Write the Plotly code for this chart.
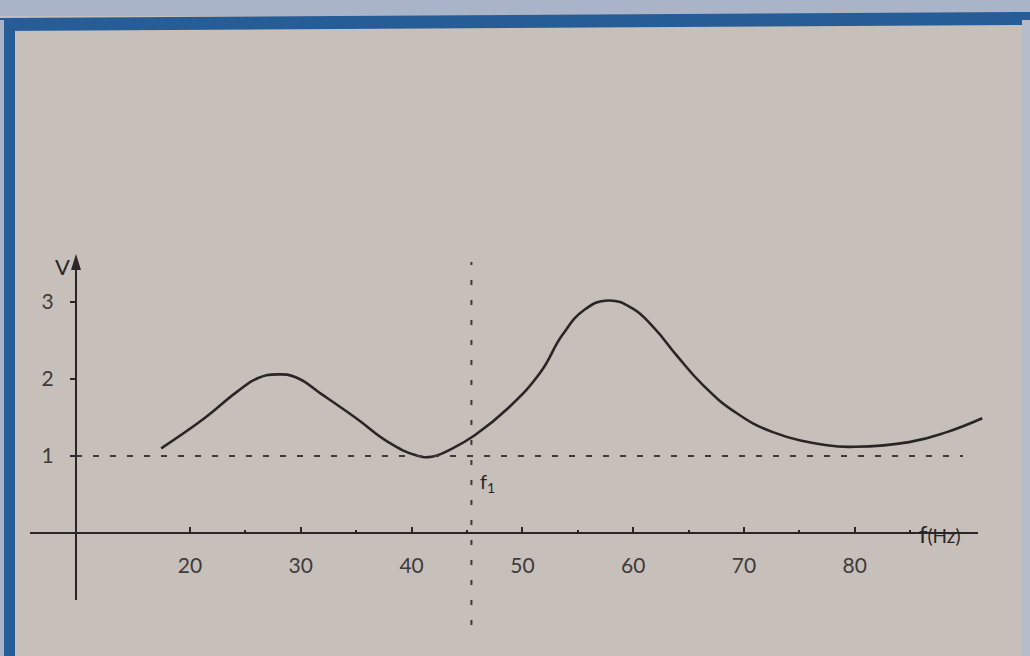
import plotly.graph_objects as go

# Response curve: output voltage V against frequency f (Hz)
freq = [17.4, 21.3, 24.2, 26.1, 27.9, 29.6, 32.0, 35.0, 37.9, 40.4, 41.8, 43.7,
        45.7, 48.7, 51.6, 53.6, 55.6, 57.7, 59.9, 61.9, 63.9, 66.3, 69.2, 72.6,
        77.5, 80.0, 84.9, 88.3, 91.5]
volts = [1.10, 1.49, 1.83, 2.01, 2.06, 2.02, 1.79, 1.49, 1.18, 1.01, 0.99, 1.10,
         1.27, 1.62, 2.08, 2.57, 2.90, 3.02, 2.92, 2.66, 2.31, 1.92, 1.57, 1.31,
         1.14, 1.12, 1.18, 1.31, 1.49]

x_tick_vals = [20, 30, 40, 50, 60, 70, 80]
x_tick_text = ["20", "30", "40", "50", "60", "70", "80"]
x_minor_vals = [25, 35, 45, 55, 65, 75, 85]
y_tick_vals = [1, 2, 3]
y_tick_text = ["1", "2", "3"]

f1 = 45.4          # marked frequency f1
v_ref = 1          # reference level drawn dashed

# ---- page geometry (pixels) ----
W, H = 1030, 656
PX_PER_HZ = 11.08
PX_PER_V = 77.0
X20_PX = 190       # pixel column of f = 20 Hz
V0_PX = 533        # pixel row of V = 0

def f_at(px):
    return 20 + (px - X20_PX) / PX_PER_HZ

def v_at(py):
    return (V0_PX - py) / PX_PER_V

def pxx(px):
    return px / W

def pxy(py):
    return (H - py) / H

Y_AXIS_F = f_at(76)

bg = "#c7c0ba"
ink = "#2a2628"
soft_ink = "#3f3a3b"
frame_blue = "#275d97"
edge_blue = "#a9b4c8"

fig = go.Figure()
fig.add_trace(go.Scatter(
    x=freq, y=volts, mode="lines",
    line=dict(shape="spline", smoothing=1.3, color=ink, width=2.6),
    hoverinfo="skip",
))

shapes = [
    # outer frame of the card
    dict(type="rect", xref="paper", yref="paper", x0=0, x1=1, y0=pxy(16), y1=1,
         fillcolor=edge_blue, line_width=0, layer="below"),
    dict(type="path", xref="paper", yref="paper",
         path=f"M 0,{pxy(18)} L 1,{pxy(12)} L 1,{pxy(25)} L 0,{pxy(31)} Z",
         fillcolor=frame_blue, line_width=0, layer="below"),
    dict(type="rect", xref="paper", yref="paper", x0=0, x1=pxx(4), y0=0, y1=pxy(20),
         fillcolor=edge_blue, line_width=0, layer="below"),
    dict(type="rect", xref="paper", yref="paper", x0=pxx(4), x1=pxx(15), y0=0, y1=pxy(22),
         fillcolor=frame_blue, line_width=0, layer="below"),
    dict(type="rect", xref="paper", yref="paper", x0=pxx(1022), x1=1, y0=0, y1=pxy(20),
         fillcolor="#b7bccb", line_width=0, layer="below"),
    # frequency axis
    dict(type="line", xref="x", yref="y", x0=f_at(30), x1=f_at(978), y0=0, y1=0,
         line=dict(color=ink, width=2)),
    # voltage axis and its arrow head
    dict(type="line", xref="x", yref="y", x0=Y_AXIS_F, x1=Y_AXIS_F,
         y0=v_at(600), y1=v_at(262), line=dict(color=ink, width=2)),
    dict(type="path", xref="x", yref="y", xsizemode="pixel", ysizemode="pixel",
         xanchor=Y_AXIS_F, yanchor=v_at(254), path="M 0,0 L -5,-16 L 5,-16 Z",
         fillcolor=ink, line_width=0),
    # dashed reference level V = 1
    dict(type="line", xref="x", yref="y", x0=Y_AXIS_F, x1=f_at(963), y0=v_ref, y1=v_ref,
         line=dict(color=soft_ink, width=2, dash="6px,11px")),
    # dashed marker at f1
    dict(type="line", xref="x", yref="y", x0=f1, x1=f1, y0=v_at(625), y1=v_at(262),
         line=dict(color=soft_ink, width=2, dash="5px,15px")),
]

annotations = [
    dict(x=pxx(53), y=pxy(266), xref="paper", yref="paper", text="V", showarrow=False,
         font=dict(family="Lato", size=22, color=ink)),
    dict(x=pxx(962), y=pxy(550), xref="paper", yref="paper",
         text="<span style='font-size:24px'>f</span>(Hz)", showarrow=False,
         font=dict(family="Lato", size=19, color=ink)),
    dict(x=f1, y=v_at(482), xref="x", yref="y", xshift=16, text="f<sub>1</sub>",
         showarrow=False, font=dict(family="Lato", size=20, color=ink)),
]

fig.update_layout(
    width=W, height=H, margin=dict(l=0, r=0, t=0, b=0),
    paper_bgcolor=bg, plot_bgcolor=bg, showlegend=False,
    font=dict(family="Lato", color=soft_ink),
    shapes=shapes, annotations=annotations,
    xaxis=dict(
        range=[f_at(0), f_at(W)], domain=[0, 1], anchor="free", position=pxy(V0_PX),
        showgrid=False, zeroline=False, showline=False, fixedrange=True,
        tickvals=x_tick_vals, ticktext=x_tick_text,
        ticks="inside", ticklen=6, tickwidth=2, tickcolor=ink,
        ticklabelstandoff=18, tickfont=dict(family="Lato", size=21, color=soft_ink),
        minor=dict(tickvals=x_minor_vals, ticks="inside", ticklen=3, tickwidth=2,
                   tickcolor=ink),
    ),
    yaxis=dict(
        range=[v_at(H), v_at(0)], domain=[0, 1], anchor="free", position=pxx(76),
        showgrid=False, zeroline=False, showline=False, fixedrange=True,
        tickvals=y_tick_vals, ticktext=y_tick_text,
        ticks="outside", ticklen=6, tickwidth=2, tickcolor=ink,
        ticklabelstandoff=12, tickfont=dict(family="Lato", size=21, color=soft_ink),
    ),
)

fig.write_html("out.html")
